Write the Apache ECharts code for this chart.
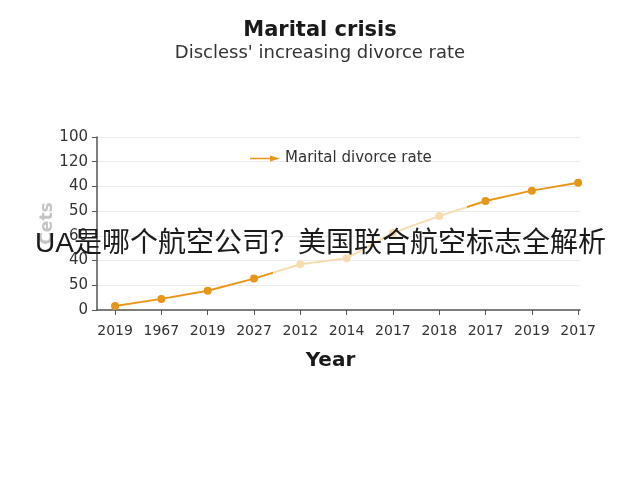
<!DOCTYPE html>
<html>
<head>
<meta charset="utf-8">
<script src="https://cdn.jsdelivr.net/npm/echarts@6/dist/echarts.min.js"></script>
<style>html,body{margin:0;padding:0;background:#fff}#c{width:640px;height:480px}</style>
</head>
<body>
<div id="c"></div>
<script>
var years = ["2019","1967","2019","2027","2012","2014","2017","2018","2017","2019","2017"];
var yTickLabels = ["0","50","40","60","50","40","120","100"];
var rateValues = [0.16,0.45,0.78,1.27,1.85,2.09,3.12,3.80,4.41,4.83,5.15];
var seriesName = "Marital divorce rate";

var chart = echarts.init(document.getElementById('c'));
var idx = years.map(function(_, i){ return i; });
var F = 'DejaVu Sans';
chart.setOption({
  backgroundColor: '#fff',
  animation: false,
  title: {
    text: 'Marital crisis',
    subtext: "Discless' increasing divorce rate",
    left: 'center', top: 15, itemGap: 3,
    textStyle: {fontFamily: F, fontSize: 21, fontWeight: 'bold', color: '#1a1a1a'},
    subtextStyle: {fontFamily: F, fontSize: 18, color: '#333'}
  },
  legend: {
    top: 146, left: 245,
    itemWidth: 30, itemHeight: 8, itemGap: 6,
    icon: 'path://M0,3.2 L24,3.2 L24,4.8 L0,4.8 Z M20,1 L30,4 L20,7 Z',
    textStyle: {fontFamily: F, fontSize: 15, color: '#333'},
    data: [seriesName]
  },
  visualMap: {
    show: false, type: 'piecewise', dimension: 0, seriesIndex: 0,
    pieces: [
      {lt: 3.4, color: '#E8961A'},
      {gte: 3.4, lte: 7.6, color: '#F6DDB0'},
      {gt: 7.6, color: '#E8961A'}
    ]
  },
  grid: {left: 97, right: 60, top: 137, bottom: 170},
  xAxis: {
    type: 'value', min: -0.39, max: 10.04,
    splitLine: {show: false},
    axisLine: {show: true, onZero: false, lineStyle: {color: '#555', width: 1.5}},
    axisTick: {show: true, customValues: idx, length: 5, lineStyle: {color: '#555'}},
    axisLabel: {customValues: idx, margin: 14, fontFamily: F, fontSize: 14, color: '#333',
      formatter: function(v){ return years[Math.round(v)]; }},
    name: 'Year', nameLocation: 'middle', nameGap: 41, nameMoveOverlap: false,
    nameTextStyle: {fontFamily: F, fontSize: 20, fontWeight: 'bold', color: '#1a1a1a', padding: [0, 16, 0, 0]}
  },
  yAxis: {
    type: 'value', min: 0, max: 7, interval: 1,
    axisLine: {show: true, onZero: false, lineStyle: {color: '#555', width: 1.5}},
    axisTick: {show: true, length: 5, lineStyle: {color: '#555'}},
    splitLine: {lineStyle: {color: '#ececec'}},
    axisLabel: {margin: 9, fontFamily: F, fontSize: 15, color: '#333',
      formatter: function(v){ return yTickLabels[Math.round(v)]; }},
    name: 'Cets', nameLocation: 'middle', nameGap: 41, nameMoveOverlap: false,
    nameTextStyle: {fontFamily: F, fontSize: 17, fontWeight: 'bold', color: '#c4c4c4'}
  },
  series: [{
    name: seriesName, type: 'line',
    data: rateValues.map(function(v, i){ return [i, v]; }),
    symbol: 'circle', symbolSize: 8,
    lineStyle: {width: 2},
    itemStyle: {color: '#E8961A'}
  }],
  graphic: [{
    type: 'text', left: 35, top: 230, z: 100,
    style: {text: 'UA是哪个航空公司？美国联合航空标志全解析', fontFamily: 'Liberation Sans, Noto Sans CJK SC', fontSize: 28, fill: '#1a1a1a'}
  }]
});
</script>
</body>
</html>
